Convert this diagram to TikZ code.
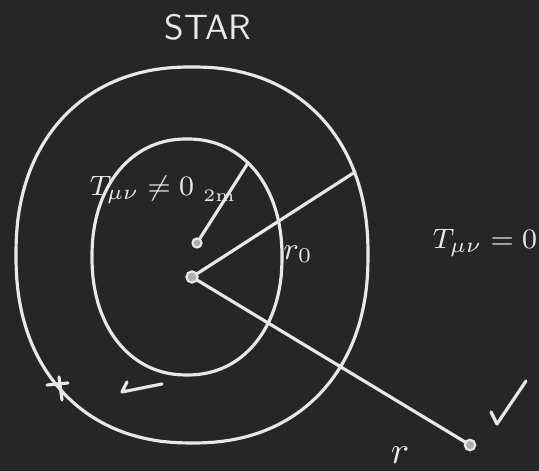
\documentclass[tikz,border=0pt]{standalone}
\usepackage{xcolor}
\usepackage{tikz}
\usetikzlibrary{positioning}
\definecolor{board}{RGB}{38,38,38}
\definecolor{chalk}{RGB}{232,232,232}

\begin{document}
\begin{tikzpicture}[x=0.01cm,y=-0.01cm,
  chalkline/.style={draw=chalk,line width=0.9pt,line cap=round,line join=round},
  blob/.style={circle,draw=chalk,fill=chalk!70!board,line width=0.6pt,inner sep=0pt},
  lbl/.style={text=chalk,inner sep=1pt}]
\fill[board] (0,0) rectangle (539,471);
\useasboundingbox (0,0) rectangle (539,471);
% title
\node[lbl,font=\sffamily\fontsize{10}{12}\selectfont] (title) at (208,27) {STAR};
% outer and inner surfaces (rounded, a bit squarish)
\draw[chalkline] plot[smooth cycle,domain=1:356,samples=72]
  ({192+176*sign(cos(\x))*abs(cos(\x))^0.9},{255-188*sign(sin(\x))*abs(sin(\x))^0.9});
\draw[chalkline] plot[smooth cycle,domain=1:356,samples=72]
  ({187+95*sign(cos(\x))*abs(cos(\x))^0.93},{257-118*sign(sin(\x))*abs(sin(\x))^0.93});
% centre and points
\node[blob,minimum size=3.2pt] (c) at (192,277) {};
\node[blob,minimum size=2.6pt] (m) at (197,243) {};
\node[blob,minimum size=3pt] (p) at (470,445) {};
\coordinate (rimout) at (355,172);
\coordinate (rimin) at (248,163);
% radii
\draw[chalkline] (c) -- (rimout);
\draw[chalkline] (m) -- (rimin);
\draw[chalkline] (c) -- (p);
% labels
\node[lbl,font=\fontsize{8}{10}\selectfont] (tin) at (142,190) {$T_{\mu\nu}\neq 0$};
\node[lbl,font=\fontsize{5}{6}\selectfont] (mass) at (219,196) {2m};
\node[lbl,font=\fontsize{9}{11}\selectfont] (rzero) at (298,254) {$r_{0}$};
\node[lbl,font=\fontsize{8}{10}\selectfont] (tout) at (485,243) {$T_{\mu\nu}=0$};
\node[lbl,font=\fontsize{11}{13}\selectfont] (rr) at (400,455) {$r$};
% marks
\draw[chalkline] (491,412) -- (497,424) -- (526,381);
\draw[chalkline] (127,382) -- (122,392) -- (162,384);
\draw[chalkline] (47,385) -- (68,383);
\draw[chalkline] (59,377) -- (62,400);
\end{tikzpicture}
\end{document}
